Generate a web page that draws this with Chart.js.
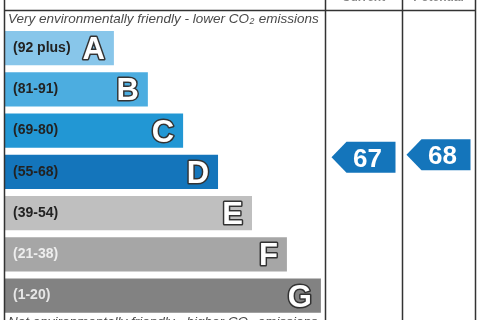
<!DOCTYPE html>
<html>
<head>
<meta charset="utf-8">
<script src="https://cdn.jsdelivr.net/npm/chart.js"></script>
<style>
  html, body { margin: 0; padding: 0; background: #fff; }
  #eiChart { display: block; }
</style>
</head>
<body>
<canvas id="eiChart" width="480" height="320"></canvas>
<script>
// bands, top (best) to bottom
const bandLabels = ['A', 'B', 'C', 'D', 'E', 'F', 'G'];
const bandRanges = ['(92 plus)', '(81-91)', '(69-80)', '(55-68)', '(39-54)', '(21-38)', '(1-20)'];
const bandMin = [92, 81, 69, 55, 39, 21, 1];
const bandMax = [100, 91, 80, 68, 54, 38, 20];
const barLengths = [34.3, 44.9, 55.9, 66.8, 77.4, 88.3, 98.9];
const barColors = ['#88c6ea', '#4cade0', '#2297d4', '#1475bb', '#bfbfbf', '#a6a6a6', '#828282'];
const rangeTextColors = ['#222', '#222', '#222', '#222', '#222', '#eee', '#e6e6e6'];

// table columns (left border, column lines, right border) in x units
const columnEdges = [0, 100.2, 124.2, 147];
const columnTitles = ['Current', 'Potential'];
const ratings = [67, 68];

const topText = 'Very environmentally friendly - lower CO';
const bottomText = 'Not environmentally friendly - higher CO';
const FONT = '"Liberation Sans", Arial, Helvetica, sans-serif';

function bandOf(score) {
    for (let i = 0; i < bandMin.length; i++) {
        if (score >= bandMin[i] && score <= bandMax[i]) return i;
    }
    return bandMin.length - 1;
}

function co2Text(ctx, text, x, y, size) {
    // "CO" + subscript 2 + " emissions"
    ctx.font = 'italic ' + size + 'px ' + FONT;
    ctx.fillText(text, x, y);
    let w = ctx.measureText(text).width;
    ctx.font = 'italic ' + (size * 0.65) + 'px ' + FONT;
    ctx.fillText('2', x + w + 0.5, y + 3);
    let w2 = ctx.measureText('2').width;
    ctx.font = 'italic ' + size + 'px ' + FONT;
    ctx.fillText(' emissions', x + w + w2 + 1, y);
}

const tablePlugin = {
    id: 'epcTable',
    afterDatasetsDraw: function(chart) {
        const ctx = chart.ctx;
        const xs = chart.scales.x;
        const area = chart.chartArea;
        const meta = chart.getDatasetMeta(0);
        ctx.save();

        // range text and band letter in each bar
        meta.data.forEach(function(bar, i) {
            let p = bar.getProps(['x', 'y', 'base', 'height'], true);
            ctx.textBaseline = 'middle';
            ctx.textAlign = 'left';
            ctx.font = 'bold 14px ' + FONT;
            ctx.fillStyle = rangeTextColors[i];
            ctx.fillText(bandRanges[i], p.base + 9, p.y);

            ctx.textBaseline = 'alphabetic';
            ctx.textAlign = 'right';
            ctx.font = 'bold 31px ' + FONT;
            ctx.lineWidth = 3;
            ctx.lineJoin = 'round';
            ctx.strokeStyle = '#333';
            ctx.strokeText(bandLabels[i], p.x - 9, p.y + 11);
            ctx.fillStyle = '#fff';
            ctx.fillText(bandLabels[i], p.x - 9, p.y + 11);
        });

        // table lines
        ctx.strokeStyle = '#333';
        ctx.lineWidth = 1.5;
        columnEdges.forEach(function(v) {
            let px = Math.round(xs.getPixelForValue(v)) + 0.5;
            ctx.beginPath();
            ctx.moveTo(px, 0);
            ctx.lineTo(px, chart.height);
            ctx.stroke();
        });
        let headY = Math.round(area.top - 17) + 0.5;
        ctx.beginPath();
        ctx.moveTo(xs.getPixelForValue(columnEdges[0]), headY);
        ctx.lineTo(xs.getPixelForValue(columnEdges[columnEdges.length - 1]), headY);
        ctx.stroke();

        // header / footer captions
        ctx.fillStyle = '#4a4a4a';
        ctx.textAlign = 'left';
        ctx.textBaseline = 'middle';
        co2Text(ctx, topText, xs.getPixelForValue(0) + 4, area.top - 8.5, 13.5);
        ctx.textBaseline = 'top';
        co2Text(ctx, bottomText, xs.getPixelForValue(0) + 4, area.bottom - 0.5, 13.5);

        // column titles (mostly above the picture)
        ctx.font = 'bold 12px ' + FONT;
        ctx.textAlign = 'center';
        ctx.textBaseline = 'alphabetic';
        ctx.fillStyle = '#888';
        columnTitles.forEach(function(t, j) {
            let cx = (xs.getPixelForValue(columnEdges[j + 1]) + xs.getPixelForValue(columnEdges[j + 2])) / 2;
            ctx.fillText(t, cx, 0.5);
        });

        // rating arrows
        ratings.forEach(function(score, j) {
            let i = bandOf(score);
            let p = meta.data[i].getProps(['y', 'height'], true);
            let top = p.y - p.height / 2;
            let y = top + (bandMax[i] - score) / (bandMax[i] - bandMin[i]) * p.height;
            let cx = (xs.getPixelForValue(columnEdges[j + 1]) + xs.getPixelForValue(columnEdges[j + 2])) / 2;
            let half = 15.5;
            ctx.fillStyle = barColors[i];
            ctx.beginPath();
            ctx.moveTo(cx - 32, y);
            ctx.lineTo(cx - 17, y - half);
            ctx.lineTo(cx + 32, y - half);
            ctx.lineTo(cx + 32, y + half);
            ctx.lineTo(cx - 17, y + half);
            ctx.closePath();
            ctx.fill();

            ctx.fillStyle = '#fff';
            ctx.font = 'bold 26px ' + FONT;
            ctx.textAlign = 'center';
            ctx.textBaseline = 'alphabetic';
            ctx.fillText(String(score), cx + 4, y + 9.5);
        });

        ctx.restore();
    }
};

let ctx = document.getElementById('eiChart').getContext('2d');
let eiChart = new Chart(ctx, {
    type: 'bar',
    data: {
        labels: bandLabels,
        datasets: [{
            data: barLengths,
            backgroundColor: barColors,
            borderWidth: 0,
            barPercentage: 0.83,
            categoryPercentage: 1
        }]
    },
    options: {
        indexAxis: 'y',
        responsive: false,
        animation: false,
        layout: {
            padding: { left: 4, right: 5, top: 27.4, bottom: 3.8 }
        },
        plugins: {
            legend: { display: false },
            tooltip: { enabled: false }
        },
        scales: {
            x: { type: 'linear', min: columnEdges[0], max: columnEdges[columnEdges.length - 1], display: false },
            y: { display: false }
        }
    },
    plugins: [tablePlugin]
});
</script>
</body>
</html>
